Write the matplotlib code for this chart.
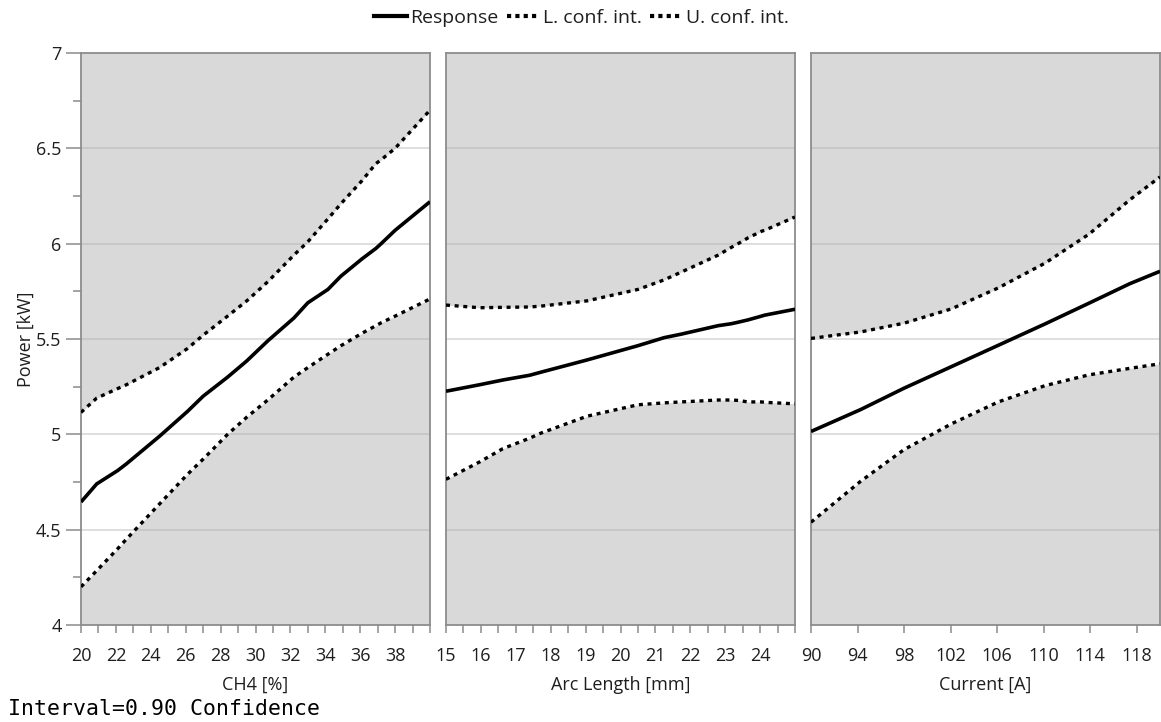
import matplotlib
matplotlib.use("Agg")
import matplotlib.pyplot as plt
from matplotlib.lines import Line2D
import numpy as np

plt.rcParams['font.family'] = ['Open Sans', 'DejaVu Sans']

# Main-effect curves: Power [kW] vs each factor, with 90 % confidence band
ch4_x = [20, 20.9, 22.1, 22.6, 24.5, 26.1, 27.0, 28.4, 29.5, 30.7, 32.2, 33.0,
         34.15, 34.9, 36.1, 36.9, 37.2, 38.0, 40]
ch4_resp = [4.645, 4.74, 4.81, 4.845, 4.99, 5.12, 5.20, 5.30, 5.385, 5.49, 5.61, 5.69,
            5.76, 5.83, 5.92, 5.975, 6.0, 6.07, 6.22]
ch4_low = [4.20, 4.285, 4.40, 4.45, 4.635, 4.79, 4.87, 5.00, 5.09, 5.18, 5.30, 5.35,
           5.42, 5.465, 5.53, 5.57, 5.585, 5.62, 5.71]
ch4_up = [5.115, 5.19, 5.24, 5.26, 5.35, 5.45, 5.52, 5.62, 5.70, 5.80, 5.94, 6.01,
          6.13, 6.21, 6.33, 6.42, 6.44, 6.50, 6.70]

arc_x = [15, 15.96, 16.63, 17.4, 17.7, 19.04, 20.5, 21.25, 21.73, 22.8, 23.17,
         23.37, 23.65, 24.04, 24.13, 25]
arc_resp = [5.226, 5.26, 5.285, 5.31, 5.325, 5.39, 5.465, 5.507, 5.525, 5.57, 5.58,
            5.588, 5.60, 5.62, 5.625, 5.656]
arc_low = [4.764, 4.855, 4.925, 4.98, 5.005, 5.095, 5.155, 5.165, 5.17, 5.18, 5.18,
           5.178, 5.17, 5.17, 5.168, 5.16]
arc_up = [5.678, 5.664, 5.666, 5.668, 5.672, 5.70, 5.76, 5.81, 5.85, 5.94, 5.98,
          6.00, 6.03, 6.065, 6.07, 6.14]

cur_x = [90, 94.27, 98.0, 102.07, 106.1, 110.15, 113.9, 117.4, 120]
cur_resp = [5.015, 5.13, 5.242, 5.355, 5.467, 5.58, 5.688, 5.79, 5.855]
cur_low = [4.539, 4.754, 4.92, 5.055, 5.17, 5.256, 5.312, 5.346, 5.37]
cur_up = [5.503, 5.537, 5.583, 5.658, 5.768, 5.899, 6.05, 6.23, 6.35]

x_labels = ['CH4 [%]', 'Arc Length [mm]', 'Current [A]']
x_limits = [(20, 40), (15, 25), (90, 120)]
x_ticks = [np.arange(20, 40.5, 1), np.arange(15, 25.01, 0.5), np.arange(90, 119, 4)]
x_ticklabels = [
    [str(int(v)) if (v % 2 == 0 and v < 40) else '' for v in np.arange(20, 40.5, 1)],
    [str(int(v)) if (v % 1 == 0 and v < 25) else '' for v in np.arange(15, 25.01, 0.5)],
    [str(int(v)) for v in np.arange(90, 119, 4)],
]
panels = [
    (ch4_x, ch4_resp, ch4_low, ch4_up),
    (arc_x, arc_resp, arc_low, arc_up),
    (cur_x, cur_resp, cur_low, cur_up),
]

W, H = 1161, 722
fig = plt.figure(figsize=(W / 100, H / 100), dpi=100)

left_px = [81, 446, 811]
width_px = 349
top_px, bottom_px = 53, 625

bg_gray = '#d9d9d9'
frame_col = '#8c8c8c'
text_col = '#1e1e1e'
fs = 13

for i, (xs, resp, low, up) in enumerate(panels):
    ax = fig.add_axes([left_px[i] / W, 1 - bottom_px / H,
                       width_px / W, (bottom_px - top_px) / H])
    ax.set_facecolor(bg_gray)
    ax.fill_between(xs, low, up, color='white', lw=0, zorder=1)
    ax.set_xlim(*x_limits[i])
    ax.set_ylim(4, 7)
    for g in [4.5, 5, 5.5, 6, 6.5]:
        ax.axhline(g, color='#a8a8a8', alpha=0.4, lw=1.3, zorder=1.5)
    ax.plot(xs, resp, color='black', lw=2.6, zorder=3, solid_capstyle='butt')
    ax.plot(xs, low, color='black', lw=2.4, ls=(0, (1.2, 1.4)), zorder=3)
    ax.plot(xs, up, color='black', lw=2.4, ls=(0, (1.2, 1.4)), zorder=3)

    for s in ax.spines.values():
        s.set_color(frame_col)
        s.set_linewidth(1.3)
    ax.set_xticks(x_ticks[i])
    ax.set_xticklabels(x_ticklabels[i])
    ax.tick_params(axis='x', direction='out', length=5.5, width=1.1, color=frame_col,
                   labelsize=fs, pad=10, labelcolor=text_col)
    ax.set_xlabel(x_labels[i], fontsize=fs, color=text_col, labelpad=8)
    if i == 0:
        ax.set_yticks([4, 4.5, 5, 5.5, 6, 6.5, 7])
        ax.set_yticklabels(['4', '4.5', '5', '5.5', '6', '6.5', '7'])
        ax.set_yticks(np.arange(4.25, 7, 0.5), minor=True)
        ax.tick_params(axis='y', which='major', direction='out', length=11, width=1.1,
                       color=frame_col, labelsize=fs, pad=3, labelcolor=text_col)
        ax.tick_params(axis='y', which='minor', direction='out', length=6, width=1.1,
                       color=frame_col)
        ax.set_ylabel('Power [kW]', fontsize=fs, color=text_col, labelpad=1)
    else:
        ax.set_yticks([])

# Legend across the top
handles = [
    Line2D([], [], color='black', lw=3),
    Line2D([], [], color='black', lw=3, ls=(0, (1.0, 1.0))),
    Line2D([], [], color='black', lw=3, ls=(0, (1.0, 1.0))),
]
fig.legend(handles, ['Response', 'L. conf. int.', 'U. conf. int.'],
           loc='center', bbox_to_anchor=(581.5 / W, 1 - 18 / H), ncol=3, frameon=False,
           fontsize=14, handlelength=1.7, handletextpad=0.15, columnspacing=0.45,
           labelcolor=text_col)

fig.text(8 / W, 1 - 709 / H, 'Interval=0.90 Confidence', family='DejaVu Sans Mono',
         fontsize=15.5, va='center', ha='left', color='black')

fig.savefig('out.png', dpi=100)
